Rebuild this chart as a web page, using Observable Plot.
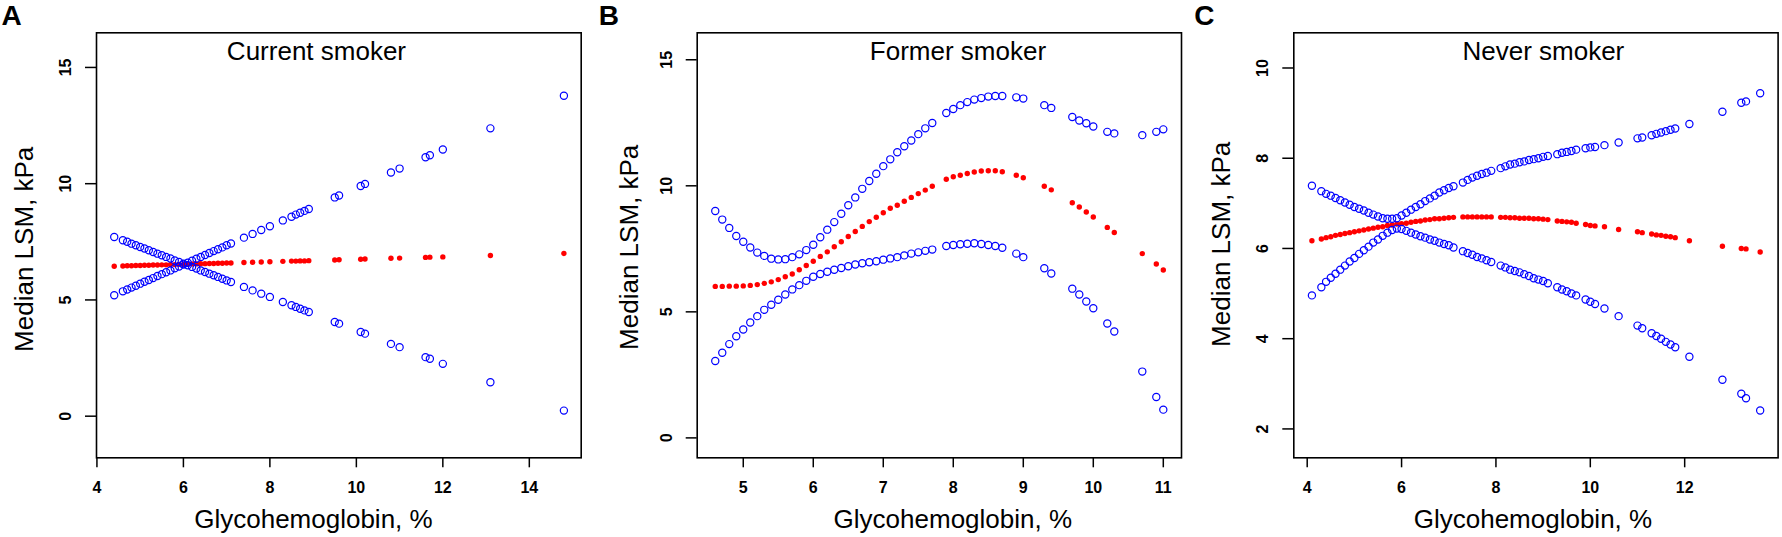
<!DOCTYPE html>
<html>
<head>
<meta charset="utf-8">
<script src="https://cdn.jsdelivr.net/npm/d3@7"></script>
<script src="https://cdn.jsdelivr.net/npm/@observablehq/plot@0.6"></script>
<style>
  html, body { margin: 0; padding: 0; background: #ffffff; }
  #root { position: relative; width: 1782px; height: 537px; overflow: hidden; background: #ffffff; }
  .panel { position: absolute; top: 0; }
</style>
</head>
<body>
<div id="root"></div>
<script>
// ---------- Data ----------
const panelLetters = ["A", "B", "C"];
const panelTitles = ["Current smoker", "Former smoker", "Never smoker"];
const xAxisLabel = "Glycohemoglobin, %";
const yAxisLabel = "Median LSM, kPa";

// Panel A: Current smoker
const hbA = [4.4, 4.6, 4.7, 4.8, 4.9, 5.0, 5.1, 5.2, 5.3, 5.4, 5.5, 5.6, 5.7, 5.8, 5.9, 6.0, 6.1, 6.2, 6.3, 6.4, 6.5, 6.6, 6.7, 6.8, 6.9, 7.0, 7.1,
  7.4, 7.6, 7.8, 8.0, 8.3, 8.5, 8.6, 8.7, 8.8, 8.9, 9.5, 9.6, 10.1, 10.2, 10.8, 11.0, 11.6, 11.7, 12.0, 13.1, 14.8];
const fitA = [6.45, 6.46, 6.47, 6.47, 6.48, 6.48, 6.49, 6.49, 6.50, 6.50, 6.51, 6.51, 6.52, 6.52, 6.53, 6.53, 6.54, 6.55, 6.55, 6.56, 6.56, 6.57, 6.57, 6.58, 6.58, 6.59, 6.59,
  6.61, 6.62, 6.63, 6.64, 6.66, 6.67, 6.67, 6.68, 6.68, 6.69, 6.72, 6.73, 6.75, 6.76, 6.79, 6.80, 6.83, 6.84, 6.85, 6.91, 7.00];
const upperA = [7.71, 7.57, 7.50, 7.42, 7.35, 7.28, 7.21, 7.14, 7.06, 6.99, 6.92, 6.85, 6.78, 6.70, 6.63, 6.56, 6.60, 6.69, 6.77, 6.85, 6.93, 7.02, 7.10, 7.18, 7.26, 7.35, 7.43,
  7.68, 7.84, 8.01, 8.17, 8.42, 8.58, 8.67, 8.75, 8.83, 8.91, 9.41, 9.49, 9.90, 9.99, 10.48, 10.65, 11.14, 11.22, 11.47, 12.38, 13.78];
const lowerA = [5.20, 5.37, 5.45, 5.53, 5.61, 5.70, 5.78, 5.86, 5.94, 6.03, 6.11, 6.19, 6.27, 6.36, 6.44, 6.52, 6.49, 6.42, 6.35, 6.27, 6.20, 6.13, 6.06, 5.99, 5.91, 5.84, 5.77,
  5.56, 5.41, 5.27, 5.13, 4.91, 4.77, 4.70, 4.62, 4.55, 4.48, 4.05, 3.98, 3.62, 3.55, 3.11, 2.97, 2.54, 2.47, 2.25, 1.46, 0.24];
const xTicksA = [4, 6, 8, 10, 12, 14];
const yTicksA = [0, 5, 10, 15];

// Panel B: Former smoker
const hbB = [4.6, 4.7, 4.8, 4.9, 5.0, 5.1, 5.2, 5.3, 5.4, 5.5, 5.6, 5.7, 5.8, 5.9, 6.0, 6.1, 6.2, 6.3, 6.4, 6.5, 6.6, 6.7, 6.8, 6.9, 7.0, 7.1, 7.2, 7.3, 7.4, 7.5, 7.6, 7.7,
  7.9, 8.0, 8.1, 8.2, 8.3, 8.4, 8.5, 8.6, 8.7,
  8.9, 9.0, 9.3, 9.4, 9.7, 9.8, 9.9, 10.0, 10.2, 10.3, 10.7, 10.9, 11.0];
const fitB = [6.01, 6.01, 6.02, 6.02, 6.03, 6.05, 6.08, 6.13, 6.19, 6.28, 6.39, 6.50, 6.67, 6.84, 7.01, 7.20, 7.38, 7.58, 7.78, 7.99, 8.19, 8.39, 8.58, 8.75, 8.93, 9.11, 9.23, 9.39, 9.54, 9.69, 9.83, 9.98,
  10.26, 10.36, 10.42, 10.49, 10.55, 10.59, 10.60, 10.60, 10.56,
  10.42, 10.32, 9.98, 9.84, 9.33, 9.16, 8.96, 8.76, 8.35, 8.15, 7.31, 6.90, 6.66];
const upperB = [9.00, 8.66, 8.33, 8.01, 7.78, 7.55, 7.35, 7.22, 7.11, 7.08, 7.09, 7.17, 7.28, 7.45, 7.66, 7.96, 8.26, 8.56, 8.89, 9.23, 9.54, 9.88, 10.19, 10.48, 10.78, 11.05, 11.33, 11.57, 11.80, 12.05, 12.28, 12.49,
  12.89, 13.05, 13.20, 13.32, 13.42, 13.48, 13.54, 13.56, 13.56,
  13.51, 13.46, 13.20, 13.09, 12.73, 12.59, 12.48, 12.35, 12.14, 12.08, 12.01, 12.14, 12.24];
const lowerB = [3.05, 3.38, 3.72, 4.03, 4.30, 4.58, 4.83, 5.08, 5.28, 5.48, 5.69, 5.89, 6.06, 6.23, 6.39, 6.50, 6.59, 6.67, 6.74, 6.81, 6.88, 6.93, 6.97, 7.01, 7.07, 7.12, 7.17, 7.24, 7.31, 7.36, 7.42, 7.47,
  7.61, 7.65, 7.68, 7.70, 7.72, 7.69, 7.65, 7.61, 7.54,
  7.31, 7.17, 6.73, 6.52, 5.92, 5.69, 5.41, 5.14, 4.54, 4.22, 2.63, 1.62, 1.12];
const xTicksB = [5, 6, 7, 8, 9, 10, 11];
const yTicksB = [0, 5, 10, 15];

// Panel C: Never smoker
const hbC = [4.1, 4.3, 4.4, 4.5, 4.6, 4.7, 4.8, 4.9, 5.0, 5.1, 5.2, 5.3, 5.4, 5.5, 5.6, 5.7, 5.8, 5.9, 6.0, 6.1, 6.2, 6.3, 6.4, 6.5, 6.6, 6.7, 6.8, 6.9, 7.0, 7.1,
  7.3, 7.4, 7.5, 7.6, 7.7, 7.8, 7.9,
  8.1, 8.2, 8.3, 8.4, 8.5, 8.6, 8.7, 8.8, 8.9, 9.0, 9.1,
  9.3, 9.4, 9.5, 9.6, 9.7, 9.9, 10.0, 10.1, 10.3, 10.6, 11.0, 11.1, 11.3, 11.4, 11.5, 11.6, 11.7, 11.8, 12.1, 12.8, 13.2, 13.3, 13.6];
const fitC = [6.17, 6.21, 6.24, 6.26, 6.29, 6.31, 6.33, 6.35, 6.37, 6.39, 6.41, 6.43, 6.45, 6.47, 6.48, 6.51, 6.52, 6.54, 6.55, 6.56, 6.58, 6.60, 6.61, 6.63, 6.64, 6.66, 6.66, 6.67, 6.68, 6.69,
  6.70, 6.70, 6.70, 6.70, 6.70, 6.70, 6.70,
  6.69, 6.69, 6.68, 6.68, 6.67, 6.67, 6.67, 6.66, 6.66, 6.65, 6.64,
  6.61, 6.60, 6.59, 6.58, 6.56, 6.53, 6.51, 6.50, 6.48, 6.42, 6.37, 6.35, 6.32, 6.30, 6.29, 6.27, 6.26, 6.24, 6.17, 6.05, 6.00, 5.99, 5.92];
const upperC = [7.39, 7.27, 7.21, 7.17, 7.12, 7.07, 7.02, 6.97, 6.92, 6.88, 6.84, 6.79, 6.75, 6.71, 6.67, 6.66, 6.66, 6.67, 6.73, 6.79, 6.86, 6.92, 6.98, 7.05, 7.11, 7.17, 7.24, 7.29, 7.34, 7.38,
  7.46, 7.52, 7.57, 7.61, 7.65, 7.68, 7.72,
  7.78, 7.82, 7.86, 7.88, 7.91, 7.93, 7.96, 7.98, 8.00, 8.03, 8.05,
  8.09, 8.12, 8.14, 8.16, 8.19, 8.22, 8.24, 8.25, 8.29, 8.35, 8.44, 8.46, 8.51, 8.54, 8.57, 8.60, 8.63, 8.66, 8.76, 9.03, 9.23, 9.26, 9.44];
const lowerC = [4.96, 5.14, 5.26, 5.35, 5.44, 5.53, 5.62, 5.71, 5.79, 5.88, 5.96, 6.04, 6.13, 6.20, 6.28, 6.35, 6.41, 6.44, 6.43, 6.39, 6.35, 6.31, 6.27, 6.24, 6.20, 6.17, 6.13, 6.10, 6.07, 6.02,
  5.94, 5.90, 5.86, 5.81, 5.78, 5.74, 5.70,
  5.62, 5.58, 5.53, 5.50, 5.47, 5.43, 5.39, 5.34, 5.31, 5.28, 5.23,
  5.14, 5.09, 5.05, 5.00, 4.96, 4.87, 4.82, 4.77, 4.67, 4.50, 4.29, 4.23, 4.12, 4.06, 4.00, 3.93, 3.87, 3.81, 3.60, 3.09, 2.78, 2.68, 2.41];
const xTicksC = [4, 6, 8, 10, 12];
const yTicksC = [2, 4, 6, 8, 10];

// ---------- Layout (positions and styles) ----------
const FONT = '"Liberation Sans", Arial, Helvetica, sans-serif';
const PANEL_W = 594, PANEL_H = 537;
const layouts = [
  {left: 0,    mL: 96,    mR: 13.3, xDom: [3.99, 15.20],  yDom: [-1.79, 16.49], titleDx: -22.4, xlabDx: -25.4, ylabDx: -71.5, ylabDy: 4,  letDx: -95},
  {left: 594,  mL: 102.7, mR: 7,    xDom: [4.342, 11.26], yDom: [-0.79, 16.07], titleDx: 18.6,  xlabDx: 13.5,  ylabDx: -68,   ylabDy: 2,  letDx: -98.5},
  {left: 1188, mL: 105.3, mR: 4.4,  xDom: [3.716, 13.98], yDom: [1.36, 10.78],  titleDx: 7.4,   xlabDx: -3,    ylabDx: -72.3, ylabDy: -1, letDx: -99.5}
];
const MT = 32.3, MB = 537 - 457.3;

const series = [
  {x: hbA, fit: fitA, hi: upperA, lo: lowerA, xt: xTicksA, yt: yTicksA},
  {x: hbB, fit: fitB, hi: upperB, lo: lowerB, xt: xTicksB, yt: yTicksB},
  {x: hbC, fit: fitC, hi: upperC, lo: lowerC, xt: xTicksC, yt: yTicksC}
];

function makePanel(i) {
  const s = series[i], L = layouts[i];
  const rows = s.x.map((x, j) => ({x, fit: s.fit[j], hi: s.hi[j], lo: s.lo[j]}));
  return Plot.plot({
    width: PANEL_W,
    height: PANEL_H,
    marginLeft: L.mL,
    marginRight: L.mR,
    marginTop: MT,
    marginBottom: MB,
    x: {domain: L.xDom},
    y: {domain: L.yDom},
    style: {fontFamily: FONT, background: "transparent", overflow: "visible", color: "#000"},
    marks: [
      Plot.dot(rows, {x: "x", y: "fit", r: 2.7, fill: "#ff0000", stroke: "none"}),
      Plot.dot(rows, {x: "x", y: "hi", r: 3.6, fill: "none", stroke: "#0000ff", strokeWidth: 1.2}),
      Plot.dot(rows, {x: "x", y: "lo", r: 3.6, fill: "none", stroke: "#0000ff", strokeWidth: 1.2}),
      Plot.frame({stroke: "#000", strokeWidth: 1.6}),
      Plot.axisX(s.xt, {tickSize: 10, tickFormat: () => "", label: null, strokeWidth: 1.5}),
      Plot.axisY(s.yt, {tickSize: 11, tickFormat: () => "", label: null, strokeWidth: 1.5}),
      Plot.text(s.xt, {x: d => d, frameAnchor: "bottom", dy: 30.5, lineAnchor: "middle", textAnchor: "middle", fontSize: 16, fontWeight: "bold", fill: "#000", text: d => String(d)}),
      Plot.text(s.yt, {y: d => d, frameAnchor: "left", dx: -30.5, rotate: -90, lineAnchor: "middle", textAnchor: "middle", fontSize: 16, fontWeight: "bold", fill: "#000", text: d => String(d)}),
      Plot.text([panelTitles[i]], {frameAnchor: "top", dx: L.titleDx, dy: 18.6, lineAnchor: "middle", textAnchor: "middle", fontSize: 26, fill: "#000", text: d => d}),
      Plot.text([xAxisLabel], {frameAnchor: "bottom", dx: L.xlabDx, dy: 61.7, lineAnchor: "middle", textAnchor: "middle", fontSize: 26, fill: "#000", text: d => d}),
      Plot.text([yAxisLabel], {frameAnchor: "left", dx: L.ylabDx, dy: L.ylabDy, rotate: -90, lineAnchor: "middle", textAnchor: "middle", fontSize: 26, fill: "#000", text: d => d}),
      Plot.text([panelLetters[i]], {frameAnchor: "top-left", dx: L.letDx, dy: -27.3, lineAnchor: "top", textAnchor: "start", fontSize: 28, fontWeight: "bold", fill: "#000", text: d => d})
    ]
  });
}

const root = document.getElementById("root");
for (let i = 0; i < 3; i++) {
  const div = document.createElement("div");
  div.className = "panel";
  div.style.left = layouts[i].left + "px";
  div.appendChild(makePanel(i));
  root.appendChild(div);
}
</script>
</body>
</html>
